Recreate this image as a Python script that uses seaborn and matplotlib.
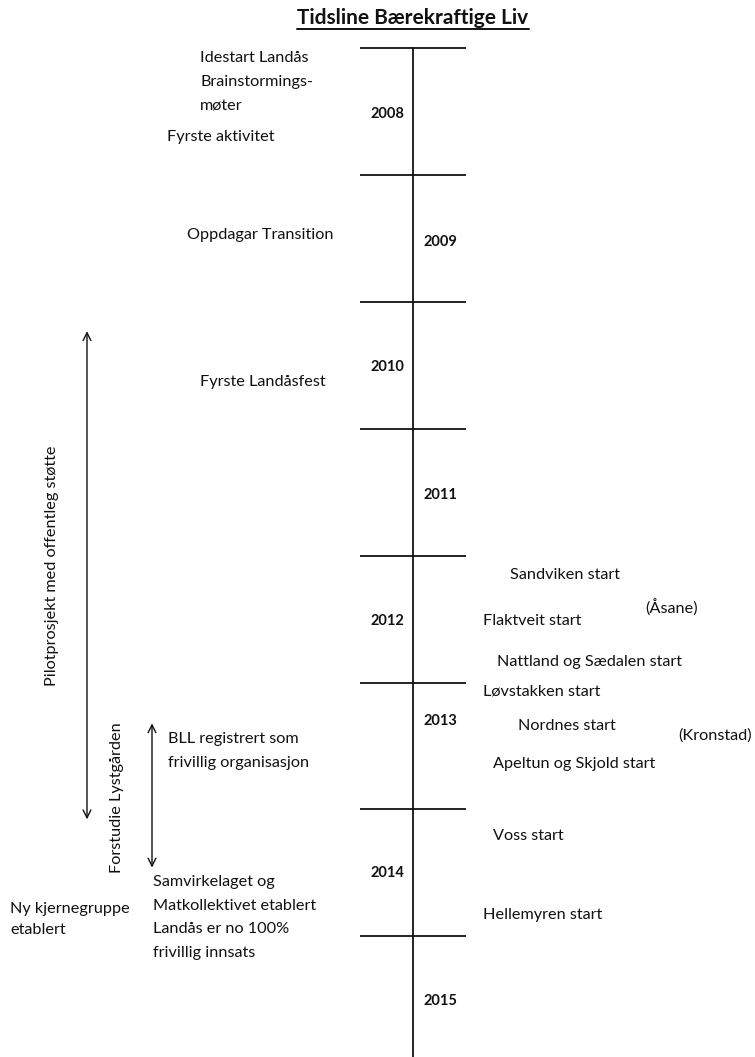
import pandas as pd
import matplotlib.pyplot as plt
import seaborn as sns

# timeline data (positions along the time axis are in years)
years = [2008, 2009, 2010, 2011, 2012, 2013, 2014, 2015]
year_label_t = [2008.51, 2009.52, 2010.50, 2011.51, 2012.50, 2013.29, 2014.49, 2015.50]

left_events = ["Idestart Landås", "Brainstormings-", "møter", "Fyrste aktivitet",
               "Oppdagar Transition", "Fyrste Landåsfest",
               "BLL registrert som", "frivillig organisasjon",
               "Samvirkelaget og", "Matkollektivet etablert", "Landås er no 100%", "frivillig innsats",
               "Ny kjernegruppe", "etablert"]
left_t = [2008.07, 2008.26, 2008.45, 2008.69,
          2009.46, 2010.62,
          2013.43, 2013.62,
          2014.56, 2014.75, 2014.93, 2015.12,
          2014.77, 2014.94]

right_events = ["Sandviken start", "(Åsane)", "Flaktveit start", "Nattland og Sædalen start",
                "Løvstakken start", "Nordnes start", "(Kronstad)", "Apeltun og Skjold start",
                "Voss start", "Hellemyren start"]
right_t = [2012.14, 2012.40, 2012.50, 2012.83,
           2013.06, 2013.33, 2013.41, 2013.63,
           2014.20, 2014.82]

periods = ["Pilotprosjekt med offentleg støtte", "Forstudie Lystgården"]
period_start = [2010.21, 2013.30]
period_end = [2014.10, 2014.48]
period_label_t = [2012.08, 2013.91]

# layout (pixels across the page)
left_x = [200, 200, 200, 167, 187, 200, 168, 168, 153, 153, 153, 153, 10, 10]
right_x = [510, 645, 483, 497, 483, 518, 678, 493, 493, 483]
year_x = [387, 440] * 4
spine_x = 413
period_x = [87, 152]
period_label_x = [52, 117]

t_top, t_bottom = 2007.622, 2015.951

sns.set_theme(style="white")
plt.rcParams["font.family"] = ["Lato", "DejaVu Sans"]

fig = plt.figure(figsize=(7.55, 10.57), dpi=100)
ax = fig.add_axes([0, 0, 1, 1])
ax.set_xlim(0, 755)
ax.set_ylim(t_bottom, t_top)
ax.set_axis_off()

ink = "#111111"
fs = 11.7

# main spine
spine = pd.DataFrame({"x": [spine_x, spine_x], "t": [years[0], t_bottom]})
sns.lineplot(data=spine, x="x", y="t", sort=False, estimator=None, color=ink, lw=1.3, ax=ax)
ax.hlines(years, spine_x - 53, spine_x + 53, color=ink, lw=1.3)

for y, t, x in zip(years, year_label_t, year_x):
    ax.text(x, t, str(y), ha="center", va="center_baseline", fontsize=10.5, fontweight="bold", color=ink)

for s, t, x in zip(left_events, left_t, left_x):
    ax.text(x, t, s, ha="left", va="center_baseline", fontsize=fs, color=ink)
for s, t, x in zip(right_events, right_t, right_x):
    ax.text(x, t, s, ha="left", va="center_baseline", fontsize=fs, color=ink)

for s, t0, t1, tl, x, lx in zip(periods, period_start, period_end, period_label_t, period_x, period_label_x):
    ax.annotate("", xy=(x, t0), xytext=(x, t1),
                arrowprops=dict(arrowstyle="<->", color=ink, lw=1.0, mutation_scale=14))
    ax.text(lx, tl, s, rotation=90, ha="center", va="center", fontsize=fs, color=ink)

title = ax.text(413, t_top + 18 / 126.9, "Tidsline Bærekraftige Liv", ha="center", va="center",
                fontsize=15, fontweight="bold", color=ink)
fig.canvas.draw()
bb = title.get_window_extent().transformed(ax.transData.inverted())
ax.plot([bb.x0, bb.x1], [max(bb.y0, bb.y1) + 0.01] * 2, color=ink, lw=1.4)

fig.savefig("out.png", dpi=100)
